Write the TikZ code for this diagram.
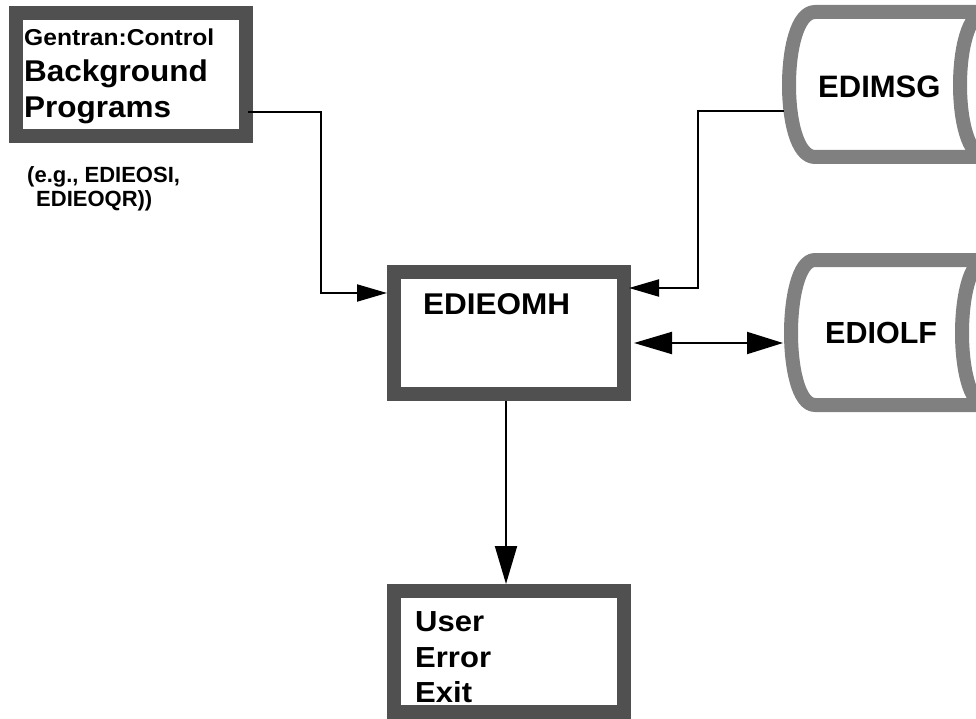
\documentclass[tikz,border=0pt]{standalone}
\usepackage{fontspec}
\setmainfont{Liberation Sans}
\usetikzlibrary{arrows.meta,calc}
\definecolor{boxgray}{HTML}{505050}
\definecolor{drumgray}{HTML}{808080}
\tikzset{
  procbox/.style={draw=boxgray, line width=14pt, rectangle, inner sep=0pt, outer sep=7pt},
  drum/.style={draw=drumgray, line width=14pt, line join=round},
  conn/.style={line width=2pt, draw=black},
  smallhead/.style={-{Triangle[length=30pt,width=17pt]}},
  bighead/.style={-{Triangle[length=38pt,width=22pt]}},
  dblhead/.style={{Triangle[length=38pt,width=22pt]}-{Triangle[length=36pt,width=22pt]}},
  lbl/.style={anchor=base west, inner sep=0pt, font=\bfseries, transform shape},
}
\begin{document}
\begin{tikzpicture}[x=1pt,y=-1pt]
\useasboundingbox (0,0) rectangle (976,719);
\clip (0,0) rectangle (976,719);
% boxes
\node[procbox, minimum width=230pt, minimum height=123pt] (bg) at (131,74.5) {};
\node[procbox, minimum width=230pt, minimum height=122pt] (om) at (509,333) {};
\node[procbox, minimum width=230pt, minimum height=121pt] (ue) at (509,651.5) {};
% drums
\draw[drum] (1000,12) -- (815,12) .. controls (797,12) and (789,50) .. (789,85)
  .. controls (789,120) and (797,157) .. (815,157) -- (1000,157);
\draw[drum] (986,12) .. controls (968,12) and (960,50) .. (960,85)
  .. controls (960,120) and (968,157) .. (986,157);
\draw[drum] (1000,260) -- (815,260) .. controls (798,260) and (791,300) .. (791,333)
  .. controls (791,366) and (798,405) .. (815,405) -- (1000,405);
\draw[drum] (986,260) .. controls (969,260) and (962,300) .. (962,333)
  .. controls (962,366) and (969,405) .. (986,405);
% texts
\begin{scope}[xscale=1.07]
\node[lbl, font=\bfseries\fontsize{23}{24}\selectfont] (t1) at (24/1.07,46) {Gentran:Control};
\end{scope}
\begin{scope}[xscale=1.05]
\node[lbl, font=\bfseries\fontsize{30}{34}\selectfont] (t2) at (24/1.05,82) {Background};
\node[lbl, font=\bfseries\fontsize{30}{34}\selectfont] (t3) at (24/1.05,118) {Programs};
\node[lbl, font=\bfseries\fontsize{30}{34}\selectfont] (t6) at (423/1.05,314) {EDIEOMH};
\end{scope}
\node[lbl, font=\bfseries\fontsize{22}{24}\selectfont] (t4) at (27,183) {(e.g., EDIEOSI,};
\node[lbl, font=\bfseries\fontsize{22}{24}\selectfont] (t5) at (36,207) {EDIEOQR))};
\begin{scope}[xscale=1.07]
\node[lbl, font=\bfseries\fontsize{29}{34}\selectfont] (t7) at (415/1.07,631) {User};
\node[lbl, font=\bfseries\fontsize{29}{34}\selectfont] (t8) at (415/1.07,667) {Error};
\node[lbl, font=\bfseries\fontsize{29}{34}\selectfont] (t9) at (415/1.07,702) {Exit};
\end{scope}
\node[lbl, font=\bfseries\fontsize{31}{34}\selectfont] (msg) at (818,98) {EDIMSG};
\node[lbl, font=\bfseries\fontsize{30.5}{34}\selectfont] (olf) at (825,343) {EDIOLF};
% connector points
\coordinate (k1) at (321,293);
\coordinate (msgL) at (784,111);
\coordinate (k2) at (698,288);
\coordinate (olfL) at (783,343);
% connectors
\draw[conn, smallhead] ([xshift=-5pt,yshift=-37.5pt]bg.east) -| (k1) -- (om.west |- k1);
\draw[conn, smallhead] (msgL) -| (k2) -- ([xshift=-2pt]om.east |- k2);
\draw[conn, dblhead] ([xshift=3pt]om.east |- olfL) -- (olfL);
\draw[conn, bighead] ([xshift=-3pt]om.south) -- ([xshift=-3pt]ue.north);
\end{tikzpicture}
\end{document}
